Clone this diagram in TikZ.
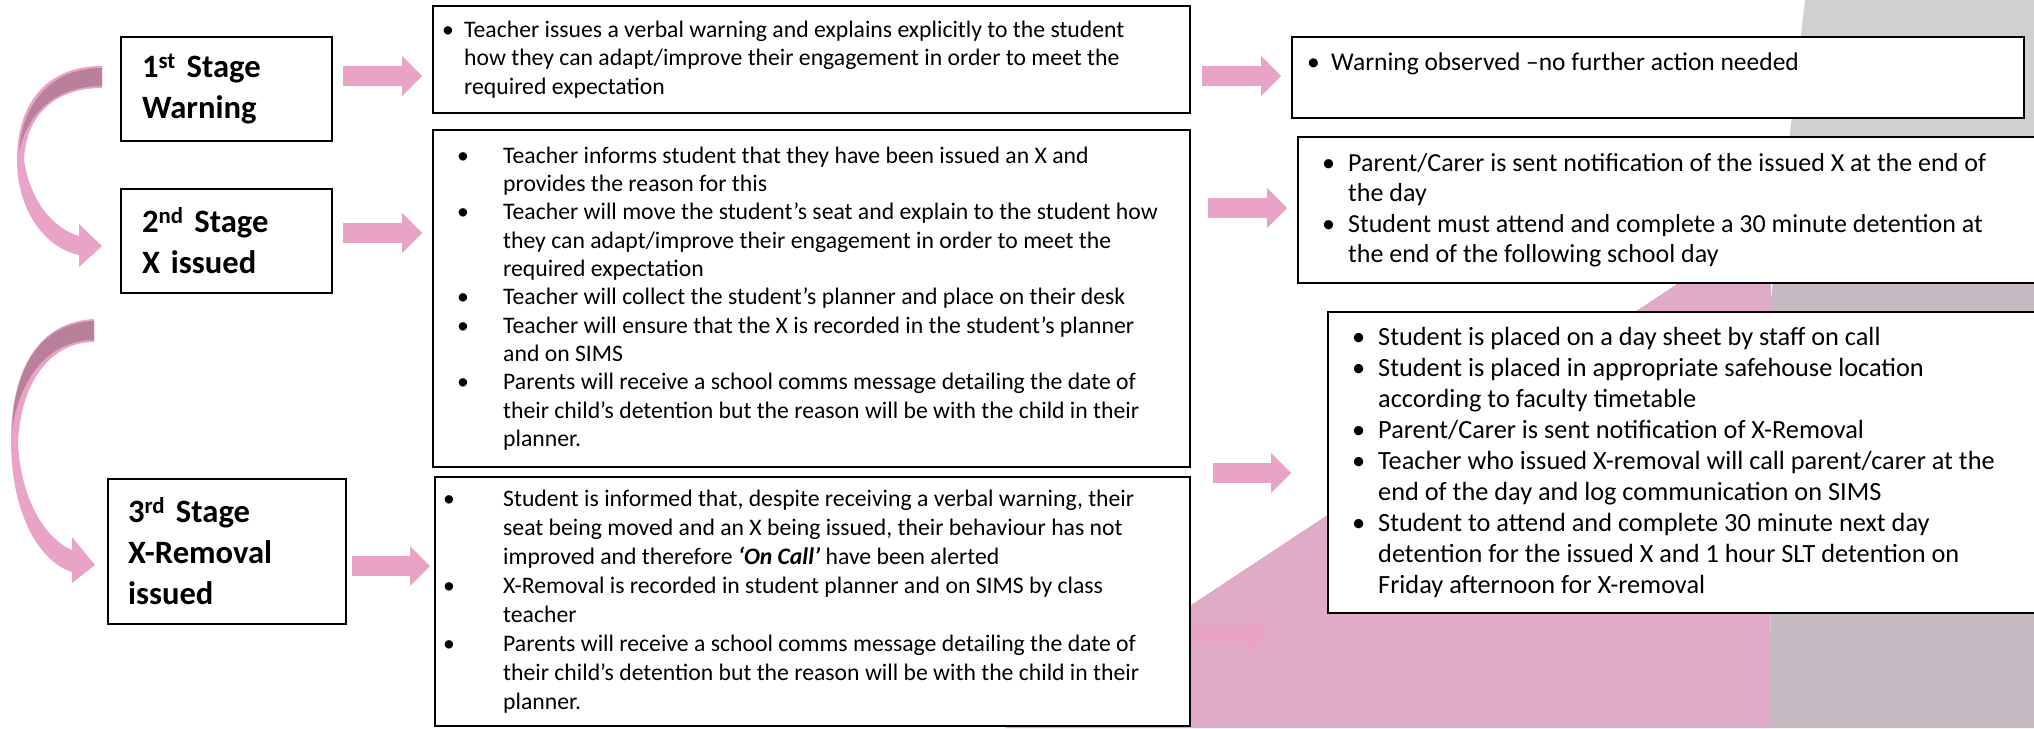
\documentclass[tikz,border=0pt]{standalone}
\usepackage{fontspec}
\setmainfont{Carlito}
\usepackage{tikz}
\usetikzlibrary{arrows.meta,positioning,calc}

\definecolor{arrowpink}{HTML}{E8A3C6}
\definecolor{ribbondark}{HTML}{B9809B}
\definecolor{bgpink}{HTML}{E0ABC8}
\definecolor{bggrey}{HTML}{D0D0D0}
\definecolor{bgmauve}{HTML}{C5B8C1}

\newlength{\bulind}
\newcommand{\bul}{\makebox[\bulind][l]{\textbullet}}
\newcommand{\cnt}{\hspace*{\bulind}}

\tikzset{
  stagebox/.style={draw, line width=2pt, fill=white, anchor=north west, inner sep=0pt, outer sep=0pt,
    minimum width=211pt, minimum height=104pt, text width=169pt, align=left,
    font=\bfseries\fontsize{32.6}{41}\selectfont},
  textbox/.style={draw, line width=2.5pt, fill=white, anchor=north west, inner sep=0pt, outer sep=0pt},
  msg/.style={align=left, inner sep=0pt, font=\fontsize{23.7}{28.3}\selectfont},
  bulgap/.code={\setlength{\bulind}{#1}},
  blk/.style={arrowpink, line width=20pt, -{Triangle[length=20pt,width=40pt,line width=0pt]}},
}

\begin{document}
\begin{tikzpicture}[x=1pt,y=-1pt]
% background
\fill[white] (0,0) rectangle (2034,728);
\useasboundingbox (0,0) rectangle (2034,728);
\fill[bggrey] (1805,0) .. controls (1797,70) and (1790,140) .. (1780,210) -- (2034,210) -- (2034,0) -- cycle;
\fill[bgmauve] (1781,200) -- (1771,300) -- (1770,728) -- (2034,728) -- (2034,200) -- cycle;
\fill[bgpink] (1771,222) -- (1770,728) -- (1005,728) -- cycle;

% stages
\node[stagebox] (s1) at (121,37) {1\textsuperscript{st} Stage\\Warning};
\node[stagebox] (s2) at (121,189) {2\textsuperscript{nd} Stage\\X issued};
\node[stagebox, minimum width=238pt, minimum height=145pt, text width=198pt] (s3) at (108,479) {3\textsuperscript{rd} Stage\\X-Removal\\issued};

% what the teacher does
\node[textbox, minimum width=757pt, minimum height=107pt] (a1) at (433,6) {};
\node[textbox, minimum width=757pt, minimum height=337pt] (a2) at (433,130) {};
\node[textbox, minimum width=755pt, minimum height=249pt] (a3) at (435,477) {};

% what follows
\node[textbox, minimum width=732pt, minimum height=81pt] (o1) at (1292,37) {};
\node[textbox, minimum width=760pt, minimum height=146pt] (o2) at (1298,137) {};
\node[textbox, minimum width=730pt, minimum height=301pt] (o3) at (1328,312) {};

\node[msg, bulgap=22pt, right=9pt of a1.west] (a1t) {%
\bul Teacher issues a verbal warning and explains explicitly to the student\\
\cnt how they can adapt/improve their engagement in order to meet the\\
\cnt required expectation};
\node[msg, bulgap=46pt, right=24pt of a2.west] (a2t) {%
\bul Teacher informs student that they have been issued an X and\\
\cnt provides the reason for this\\
\bul Teacher will move the student’s seat and explain to the student how\\
\cnt they can adapt/improve their engagement in order to meet the\\
\cnt required expectation\\
\bul Teacher will collect the student’s planner and place on their desk\\
\bul Teacher will ensure that the X is recorded in the student’s planner\\
\cnt and on SIMS\\
\bul Parents will receive a school comms message detailing the date of\\
\cnt their child’s detention but the reason will be with the child in their\\
\cnt planner.};
\node[msg, bulgap=60pt, right=8pt of a3.west, font=\fontsize{23.7}{29}\selectfont] (a3t) {%
\bul Student is informed that, despite receiving a verbal warning, their\\
\cnt seat being moved and an X being issued, their behaviour has not\\
\cnt improved and therefore \textbf{\textit{‘On Call’}} have been alerted\\
\bul X-Removal is recorded in student planner and on SIMS by class\\
\cnt teacher\\
\bul Parents will receive a school comms message detailing the date of\\
\cnt their child’s detention but the reason will be with the child in their\\
\cnt planner.};

\node[msg, bulgap=24pt, right=15pt of o1.west, yshift=14pt, font=\fontsize{25.5}{31}\selectfont] (o1t) {%
\bul Warning observed –no further action needed};
\node[msg, bulgap=26pt, right=24pt of o2.west, font=\fontsize{26}{30.5}\selectfont] (o2t) {%
\bul Parent/Carer is sent notification of the issued X at the end of\\
\cnt the day\\
\bul Student must attend and complete a 30 minute detention at\\
\cnt the end of the following school day};
\node[msg, bulgap=26pt, right=24pt of o3.west, font=\fontsize{26.3}{31}\selectfont] (o3t) {%
\bul Student is placed on a day sheet by staff on call\\
\bul Student is placed in appropriate safehouse location\\
\cnt according to faculty timetable\\
\bul Parent/Carer is sent notification of X-Removal\\
\bul Teacher who issued X-removal will call parent/carer at the\\
\cnt end of the day and log communication on SIMS\\
\bul Student to attend and complete 30 minute next day\\
\cnt detention for the issued X and 1 hour SLT detention on\\
\cnt Friday afternoon for X-removal};

% block arrows
\draw[blk, shorten <=11pt, shorten >=11pt] (s1.east |- 0,76) -- (a1.west |- 0,76);
\draw[blk, shorten <=11pt, shorten >=11pt] (s2.east |- 0,233) -- (a2.west |- 0,233);
\draw[blk, shorten <=6pt, shorten >=5pt] (s3.east |- 0,566) -- (a3.west |- 0,566);
\draw[blk, shorten <=12pt, shorten >=11pt] (a1.east |- 0,76) -- (o1.west |- 0,76);
\draw[blk, shorten <=18pt, shorten >=11pt] (a2.east |- 0,208) -- (o2.west |- 0,208);
\draw[blk, shorten <=23pt, shorten >=37pt] (a2.east |- 0,473) -- (o3.west |- 0,473);
\draw[blk, shorten <=2pt, shorten >=59pt] (a3.east |- 0,635) -- (o3.west |- 0,635);

% curved arrows between the stages
\fill[arrowpink] (102,66) .. controls (45,66) and (17,105) .. (17,160) .. controls (17,210) and (45,248) .. (79,255)
  -- (79,267) -- (102,246) -- (79,224) -- (79,236)
  .. controls (52,228) and (30,200) .. (24,160) .. controls (26,112) and (58,88) .. (102,88) -- cycle;
\fill[ribbondark] (102,68) .. controls (50,68) and (22,105) .. (19,152) .. controls (28,110) and (58,86) .. (102,86) -- cycle;
\fill[arrowpink] (94,319) .. controls (35,322) and (11,375) .. (11,440) .. controls (11,515) and (40,562) .. (72,572)
  -- (72,583) -- (95,565) -- (72,537) -- (72,550)
  .. controls (48,540) and (22,505) .. (18,445) .. controls (20,380) and (52,342) .. (94,342) -- cycle;
\fill[ribbondark] (94,321) .. controls (42,323) and (15,365) .. (12,428) .. controls (22,372) and (52,340) .. (94,340) -- cycle;
\end{tikzpicture}
\end{document}
